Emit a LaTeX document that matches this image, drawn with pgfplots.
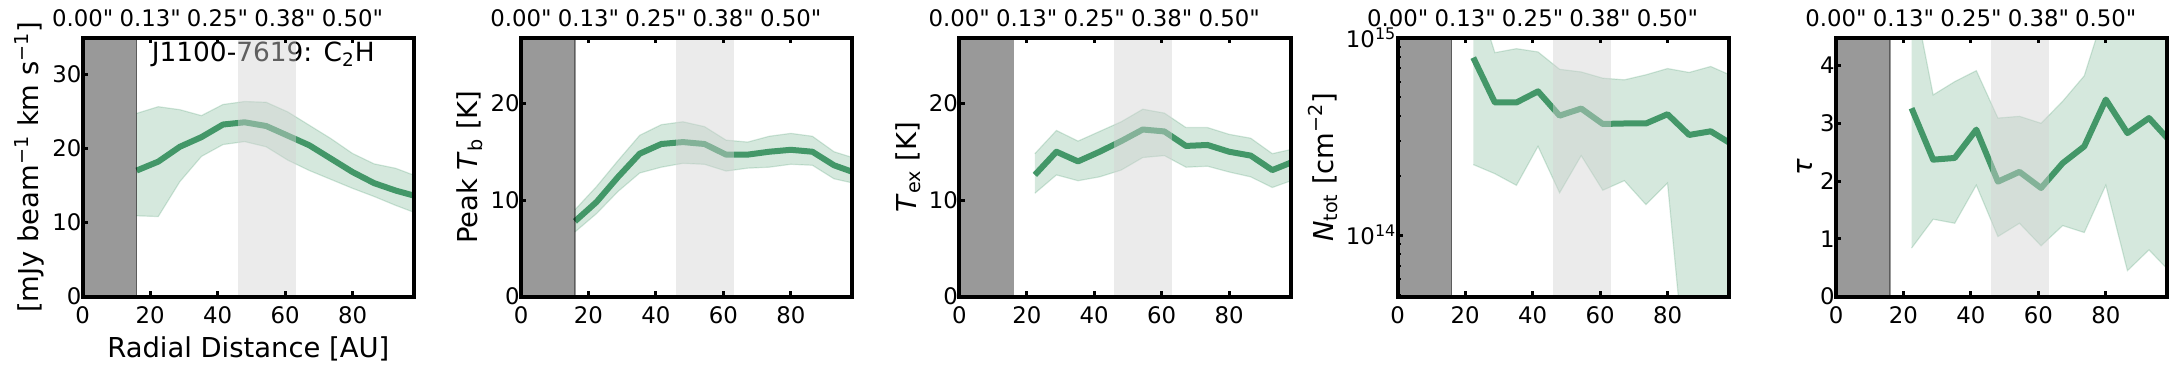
\documentclass[border=0pt]{standalone}
\usepackage{fontspec}
\setmainfont{DejaVu Sans}[Ligatures=TeXOff]
\usepackage{pgfplots}
\pgfplotsset{compat=1.18}
\usepackage{pgfplotstable}
\usepgfplotslibrary{fillbetween}
\definecolor{cLine}{RGB}{67,151,104}
\definecolor{cSea}{RGB}{46,139,87}
\definecolor{cBand}{RGB}{211,211,211}
\newcommand\tickfont{\fontsize{11.4}{13}\selectfont}
\newcommand\labfont{\fontsize{13.7}{16}\selectfont}
\newcommand\titfont{\fontsize{13.2}{15}\selectfont}

% r [AU], profile, lower and upper edge of the uncertainty band
\pgfplotstableread{
r    mid   lo    hi
16.0 17.0 10.9 24.7
22.4 18.2 10.8 25.6
28.8 20.2 15.5 25.2
35.2 21.5 18.9 24.4
41.6 23.2 20.5 25.9
48.0 23.5 20.9 26.3
54.4 23.0 20.2 26.2
60.8 21.7 18.4 24.9
67.2 20.4 17.0 23.1
73.6 18.6 15.8 21.3
80.0 16.8 14.6 19.3
86.4 15.3 13.5 17.9
92.8 14.3 12.3 17.3
99.2 13.5 11.2 16.2
}\tMom
\pgfplotstableread{
r    mid   lo    hi
16.0  7.8  6.7  9.0
22.4  9.8  8.6 11.4
28.8 12.4 10.9 14.1
35.2 14.8 12.8 16.7
41.6 15.8 13.4 17.8
48.0 16.0 13.8 18.1
54.4 15.8 13.7 17.6
60.8 14.7 13.0 16.2
67.2 14.7 13.3 16.0
73.6 15.0 13.4 16.6
80.0 15.2 13.7 16.9
86.4 15.0 13.6 16.6
92.8 13.6 12.2 15.0
99.2 12.8 11.7 14.3
}\tTb
\pgfplotstableread{
r    mid   lo    hi
22.4 12.6 10.7 14.8
28.8 15.0 12.6 17.2
35.2 14.0 12.0 16.1
41.6 15.0 12.4 17.1
48.0 16.1 13.1 18.1
54.4 17.3 14.4 19.4
60.8 17.1 14.6 19.0
67.2 15.6 13.4 17.5
73.6 15.7 13.5 17.5
80.0 15.0 12.9 16.8
86.4 14.6 12.4 16.4
92.8 13.1 11.3 14.8
99.2 14.0 12.1 15.3
}\tTex
\pgfplotstableread{
r    mid     lo      hi
22.4 7.93e14 2.28e14 1.86e15
28.8 4.70e14 2.05e14 8.40e14
35.2 4.70e14 1.79e14 8.80e14
41.6 5.35e14 2.82e14 8.47e14
48.0 4.03e14 1.64e14 6.92e14
54.4 4.38e14 2.53e14 6.71e14
60.8 3.66e14 1.69e14 6.24e14
67.2 3.68e14 1.89e14 6.12e14
73.6 3.68e14 1.43e14 6.49e14
80.0 4.10e14 1.84e14 6.98e14
86.4 3.22e14 1.30e13 6.67e14
92.8 3.36e14 1.30e13 7.15e14
99.2 2.88e14 1.30e13 6.40e14
}\tN
\pgfplotstableread{
r    mid  lo   hi
22.4 3.26 0.84 5.40
28.8 2.37 1.34 3.49
35.2 2.40 1.27 3.72
41.6 2.89 1.93 3.91
48.0 1.99 1.04 3.09
54.4 2.16 1.27 3.12
60.8 1.88 0.88 3.00
67.2 2.31 1.23 3.38
73.6 2.60 1.11 3.82
80.0 3.41 1.93 5.00
86.4 2.83 0.45 5.50
92.8 3.09 0.81 5.50
99.2 2.68 0.42 5.50
}\tTau

\pgfplotsset{
  panel/.style={scale only axis, width=165.6pt, height=129.5pt, anchor=south west,
    xmin=0, xmax=98.2, axis on top,
    axis line style={line width=2pt}, tick align=inside,
    xtick={0,20,40,60,80}, xtick pos=both, ytick pos=left,
    major tick length=2.6pt, minor tick length=1.6pt,
    major tick style={black,line width=1.5pt},
    minor tick style={black,line width=1pt},
    tick label style={font=\tickfont},
    /pgf/number format/assume math mode=true,
    yticklabel style={anchor=east,inner xsep=0.5pt},
    xticklabel style={anchor=north,yshift=-1.2pt},
    label style={font=\labfont},
    % angular scale along the top edge (same positions as 0, 20, ..., 80 AU)
    extra description/.code={
      \foreach \r/\a in {0/0.00",20/0.13",40/0.25",60/0.38",80/0.50"}
        \node[anchor=south,font=\tickfont,yshift=2.1pt] at ({\r/98.2},1) {\a};
    }},
}

% band, profile and the two shaded zones of one panel
\newcommand\profile[1]{%
  \addplot[cSea,opacity=0.2,line width=0.6pt,name path=hi] table[x=r,y=hi]{#1};
  \addplot[cSea,opacity=0.2,line width=0.6pt,name path=lo] table[x=r,y=lo]{#1};
  \addplot[cSea,fill opacity=0.2,draw=none] fill between[of=hi and lo];
  \addplot[cLine,line width=3pt,line join=round] table[x=r,y=mid]{#1};
}
\newcommand\zones[2]{%
  \fill[black,fill opacity=0.4] (axis cs:0,#1) rectangle (axis cs:16,#2);
  \draw[black,opacity=0.4,line width=0.6pt] (axis cs:16,#1) -- (axis cs:16,#2);
  \fill[cBand,fill opacity=0.45] (axis cs:46,#1) rectangle (axis cs:63.2,#2);
}

\begin{document}
\begin{tikzpicture}
\begin{axis}[panel, at={(41.35pt,35.15pt)}, ymin=0, ymax=34.9,
  ytick={0,10,20,30},
  xlabel={Radial Distance [AU]},
  ylabel={[mJy beam\textsuperscript{−1} km s\textsuperscript{−1}]}]
\profile{\tMom}
\node[anchor=base,font=\titfont] at (rel axis cs:0.545,0.908) {J1100-7619: C\textsubscript{2}H};
\zones{-5}{50}
\end{axis}

\begin{axis}[panel, at={(260.5pt,35.15pt)}, ymin=0, ymax=26.8,
  ytick={0,10,20},
  ylabel={Peak \textit{T}\textsubscript{b} [K]}]
\profile{\tTb}
\zones{-5}{50}
\end{axis}

\begin{axis}[panel, at={(479.65pt,35.15pt)}, ymin=0, ymax=26.8,
  ytick={0,10,20},
  ylabel={\textit{T}\textsubscript{ex} [K]}]
\profile{\tTex}
\zones{-5}{50}
\end{axis}

\begin{axis}[panel, at={(698.85pt,35.15pt)}, ymode=log,
  ymin=4.89e13, ymax=1e15,
  ytick={1e14,1e15},
  yticklabels={10\textsuperscript{14},10\textsuperscript{15}},
  minor ytick={5e13,6e13,7e13,8e13,9e13,2e14,3e14,4e14,5e14,6e14,7e14,8e14,9e14},
  ylabel={\textit{N}\textsubscript{tot} [cm\textsuperscript{−2}]}]
\profile{\tN}
\zones{1e13}{1e16}
\end{axis}

\begin{axis}[panel, at={(918pt,35.15pt)}, ymin=0, ymax=4.48,
  ytick={0,1,2,3,4},
  ylabel={\textit{τ}}]
\profile{\tTau}
\zones{-1}{10}
\end{axis}
\path (0,0) rectangle (1088pt,183.5pt);
\end{tikzpicture}
\end{document}
